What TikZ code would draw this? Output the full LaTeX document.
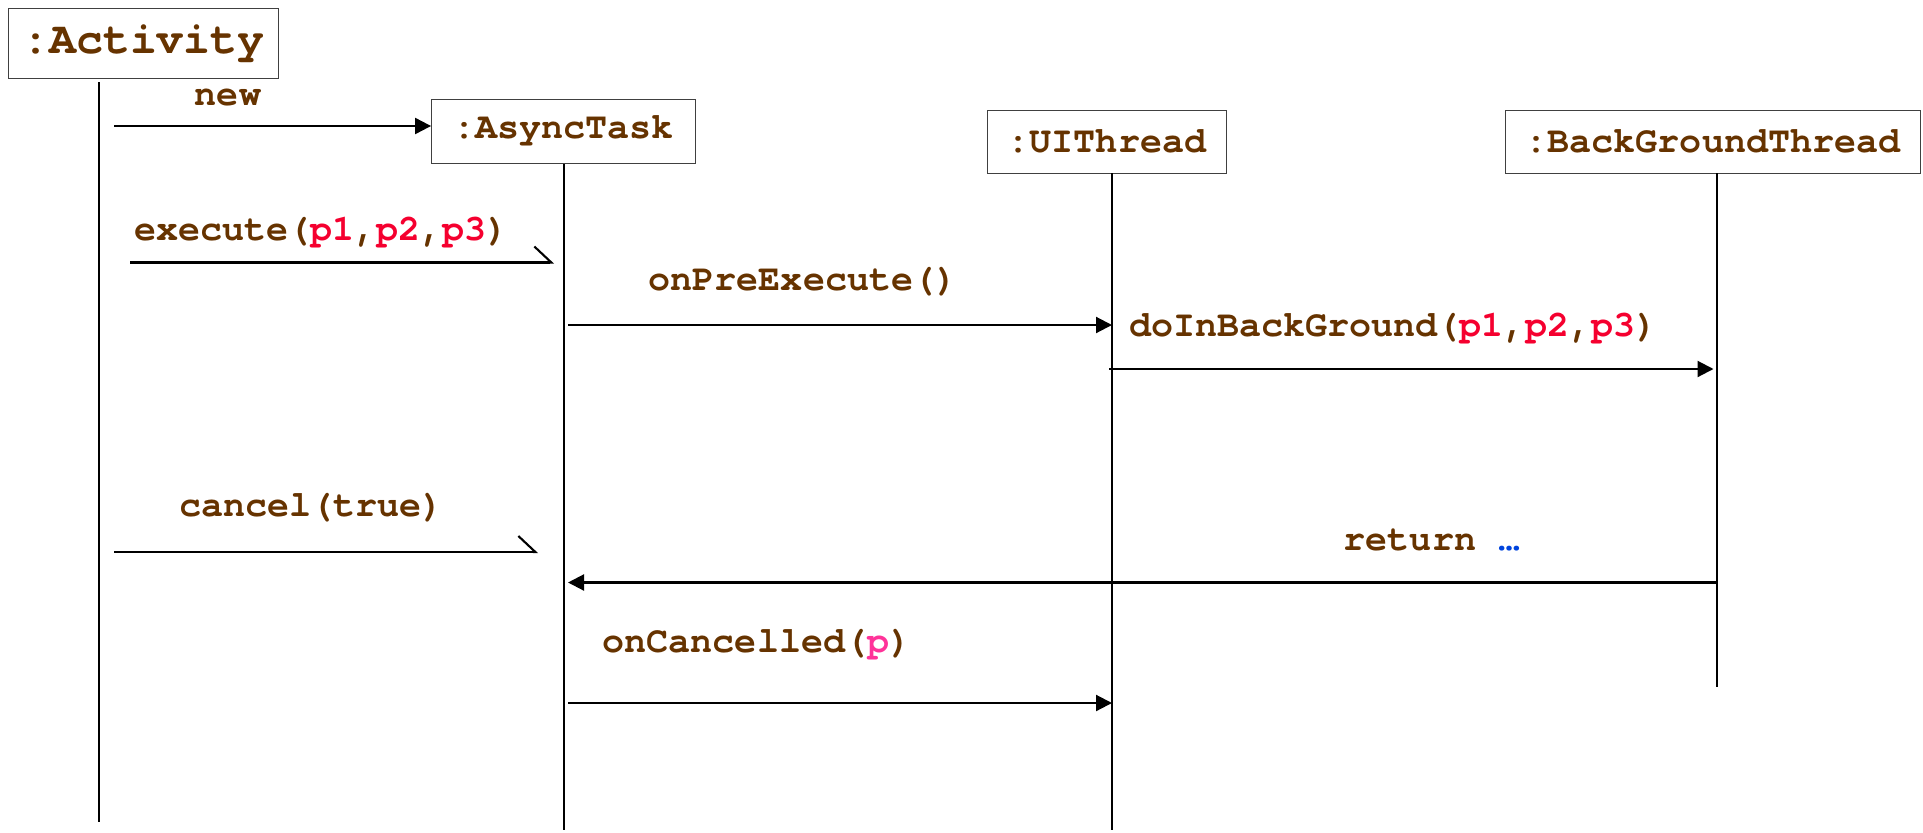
\documentclass[tikz,border=0pt]{standalone}
\usepackage{fontspec}
\setmonofont{TeX Gyre Cursor}
\usetikzlibrary{arrows.meta}
\definecolor{seqbrown}{HTML}{663300}
\definecolor{seqred}{HTML}{F5002F}
\definecolor{seqpink}{HTML}{FF3399}
\definecolor{seqblue}{HTML}{0044DD}
\newcommand{\argp}[1]{\textcolor{seqred}{#1}}

\begin{document}
\begin{tikzpicture}[x=0.02cm,y=-0.02cm,
  every node/.style={font=\ttfamily\bfseries\fontsize{20.9}{24}\selectfont,text=seqbrown},
  obj/.style={draw=black!75,line width=0.5pt,inner sep=0pt},
  life/.style={line width=1.1pt},
  msg/.style={line width=1.2pt,-{Triangle[length=0.32cm,width=0.32cm]}},
  async/.style={line width=1.2pt,-{Straight Barb[left,length=0.34cm,width=0.64cm,line width=1.2pt]}}]
  \useasboundingbox (0,0) rectangle (1923,832);

  % objects
  \node[obj,minimum width=5.4cm,minimum height=1.4cm,
    font=\ttfamily\bfseries\fontsize{25.6}{30}\selectfont] (act) at (143.5,43.5) {:Activity};
  \node[obj,minimum width=5.28cm,minimum height=1.28cm] (task) at (563.5,131.2) {:AsyncTask};
  \node[obj,minimum width=4.78cm,minimum height=1.26cm] (ui) at (1107,141.5) {:UIThread};
  \node[obj,minimum width=8.3cm,minimum height=1.26cm] (bg) at (1713,141.5) {:BackGroundThread};

  % lifelines
  \coordinate (actL) at (99,82);
  \coordinate (taskL) at (564,164);
  \coordinate (uiL) at (1112,173);
  \coordinate (bgL) at (1717,173);
  \draw[life] (actL) -- (actL |- 0,822);
  \draw[life] (taskL) -- (taskL |- 0,830);
  \draw[life] (uiL) -- (uiL |- 0,830);
  \draw[life] (bgL) -- (bgL |- 0,687);

  % messages
  \node (new) at (228,98) {new};
  \draw[msg] (114,126) -- (task.west |- 0,126);

  \node[anchor=west] (exec) at (128,233) {execute(\argp{p1},\argp{p2},\argp{p3})};
  \draw[async] (130,262.5) -- (554,262.5);

  \node (pre) at (803,282) {onPreExecute()};
  \draw[msg] (568,325) -- (uiL |- 0,325);

  \node[anchor=west] (doin) at (1123,329) {doInBackGround(\argp{p1},\argp{p2},\argp{p3})};
  \draw[msg] (1109,369) -- ([xshift=-2pt]bgL |- 0,369);

  \node (cancel) at (311.5,507.7) {cancel(true)};
  \draw[async] (114,552) -- (538,552);

  \node (ret) at (1432,540) {return \textcolor{seqblue}{…}};
  \draw[msg] (bgL |- 0,582.5) -- (568,582.5);

  \node (cnl) at (757,645) {onCancelled(\textcolor{seqpink}{p})};
  \draw[msg] (568,703) -- (uiL |- 0,703);
\end{tikzpicture}
\end{document}
